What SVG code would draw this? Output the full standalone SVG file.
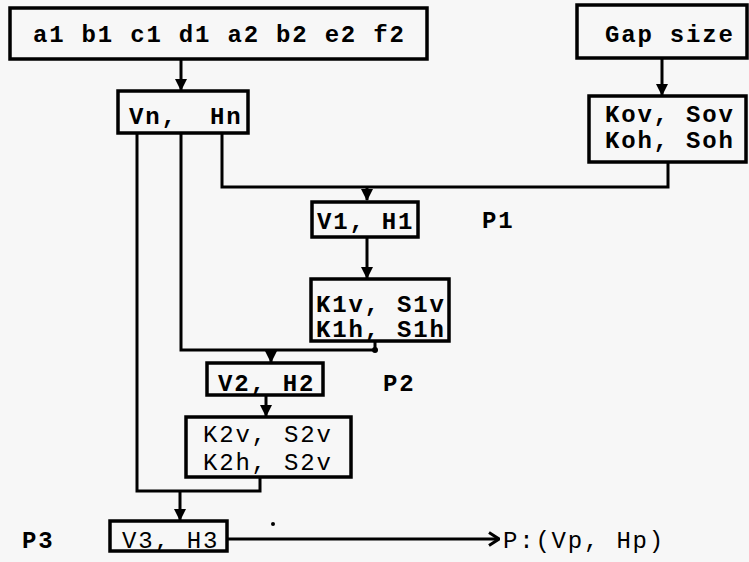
<svg xmlns="http://www.w3.org/2000/svg" width="749" height="562" viewBox="0 0 749 562">
<defs>
<style>
.box{fill:none;stroke:#000;stroke-width:3.5}
.t{font-family:"Liberation Mono","Courier New",monospace;font-size:24px;font-weight:bold;letter-spacing:1.8px;fill:#000;white-space:pre}
.r{font-weight:normal}
.c{fill:none;stroke:#000;stroke-width:3}
</style>
<marker id="ah" viewBox="0 0 12 12" refX="11" refY="6" markerWidth="12" markerHeight="12" markerUnits="userSpaceOnUse" orient="auto">
<path d="M0,0 L12,6 L0,12 z" fill="#000"/>
</marker>
<marker id="oh" viewBox="0 0 12 16" refX="11" refY="8" markerWidth="12" markerHeight="16" markerUnits="userSpaceOnUse" orient="auto">
<path d="M1,1.5 L11,8 L1,14.5" fill="none" stroke="#000" stroke-width="3"/>
</marker>
</defs>
<rect width="749" height="562" fill="#f7f7f7"/>
<g id="connectors">
<line class="c" x1="181" y1="60" x2="181" y2="90" marker-end="url(#ah)"/>
<line class="c" x1="662" y1="59" x2="662" y2="95" marker-end="url(#ah)"/>
<polyline class="c" points="222,134 222,187 668,187 668,163"/>
<line class="c" x1="367" y1="187" x2="367" y2="200" marker-end="url(#ah)"/>
<line class="c" x1="367" y1="238" x2="367" y2="278" marker-end="url(#ah)"/>
<polyline class="c" points="181,134 181,350 375,350 375,342"/>
<circle cx="375" cy="350" r="3" fill="#000"/>
<line class="c" x1="271" y1="350" x2="271" y2="362" marker-end="url(#ah)"/>
<line class="c" x1="266" y1="396" x2="266" y2="416" marker-end="url(#ah)"/>
<polyline class="c" points="137,134 137,491 260,491 260,478"/>
<line class="c" x1="180" y1="491" x2="180" y2="520" marker-end="url(#ah)"/>
<line class="c" x1="228" y1="539" x2="499" y2="539" marker-end="url(#oh)"/>
</g>
<g id="inputs">
<rect class="box" x="10" y="8" width="417" height="51"/>
<text class="t" x="33" y="42">a1 b1 c1 d1 a2 b2 e2 f2</text>
</g>
<g id="gapsize">
<rect class="box" x="577" y="5" width="170" height="53"/>
<text class="t" x="605" y="42">Gap size</text>
</g>
<g id="vnhn">
<rect class="box" x="118" y="91" width="130" height="42"/>
<text class="t" x="129" y="124" xml:space="preserve">Vn,  Hn</text>
</g>
<g id="kov">
<rect class="box" x="589" y="96" width="157" height="66"/>
<text class="t" x="605" y="122">Kov, Sov</text>
<text class="t" x="605" y="148">Koh, Soh</text>
</g>
<g id="v1h1">
<rect class="box" x="312" y="202" width="106" height="35"/>
<text class="t" x="317" y="229">V1, H1</text>
</g>
<text class="t" x="482" y="228">P1</text>
<g id="k1">
<rect class="box" x="311" y="279" width="138" height="62"/>
<text class="t" x="316" y="312">K1v, S1v</text>
<text class="t" x="316" y="337">K1h, S1h</text>
</g>
<g id="v2h2">
<rect class="box" x="207" y="363" width="116" height="32"/>
<text class="t" x="218" y="391">V2, H2</text>
</g>
<text class="t" x="383" y="391">P2</text>
<g id="k2">
<rect class="box" x="186" y="417" width="165" height="60"/>
<text class="t r" x="203" y="442">K2v, S2v</text>
<text class="t r" x="203" y="470">K2h, S2v</text>
</g>
<g id="v3h3">
<rect class="box" x="110" y="521" width="117" height="30"/>
<text class="t r" x="122" y="548">V3, H3</text>
</g>
<text class="t" x="22" y="548">P3</text>
<text class="t r" x="503" y="548">P:(Vp, Hp)</text>
<circle cx="273" cy="524" r="2" fill="#000"/>
</svg>
